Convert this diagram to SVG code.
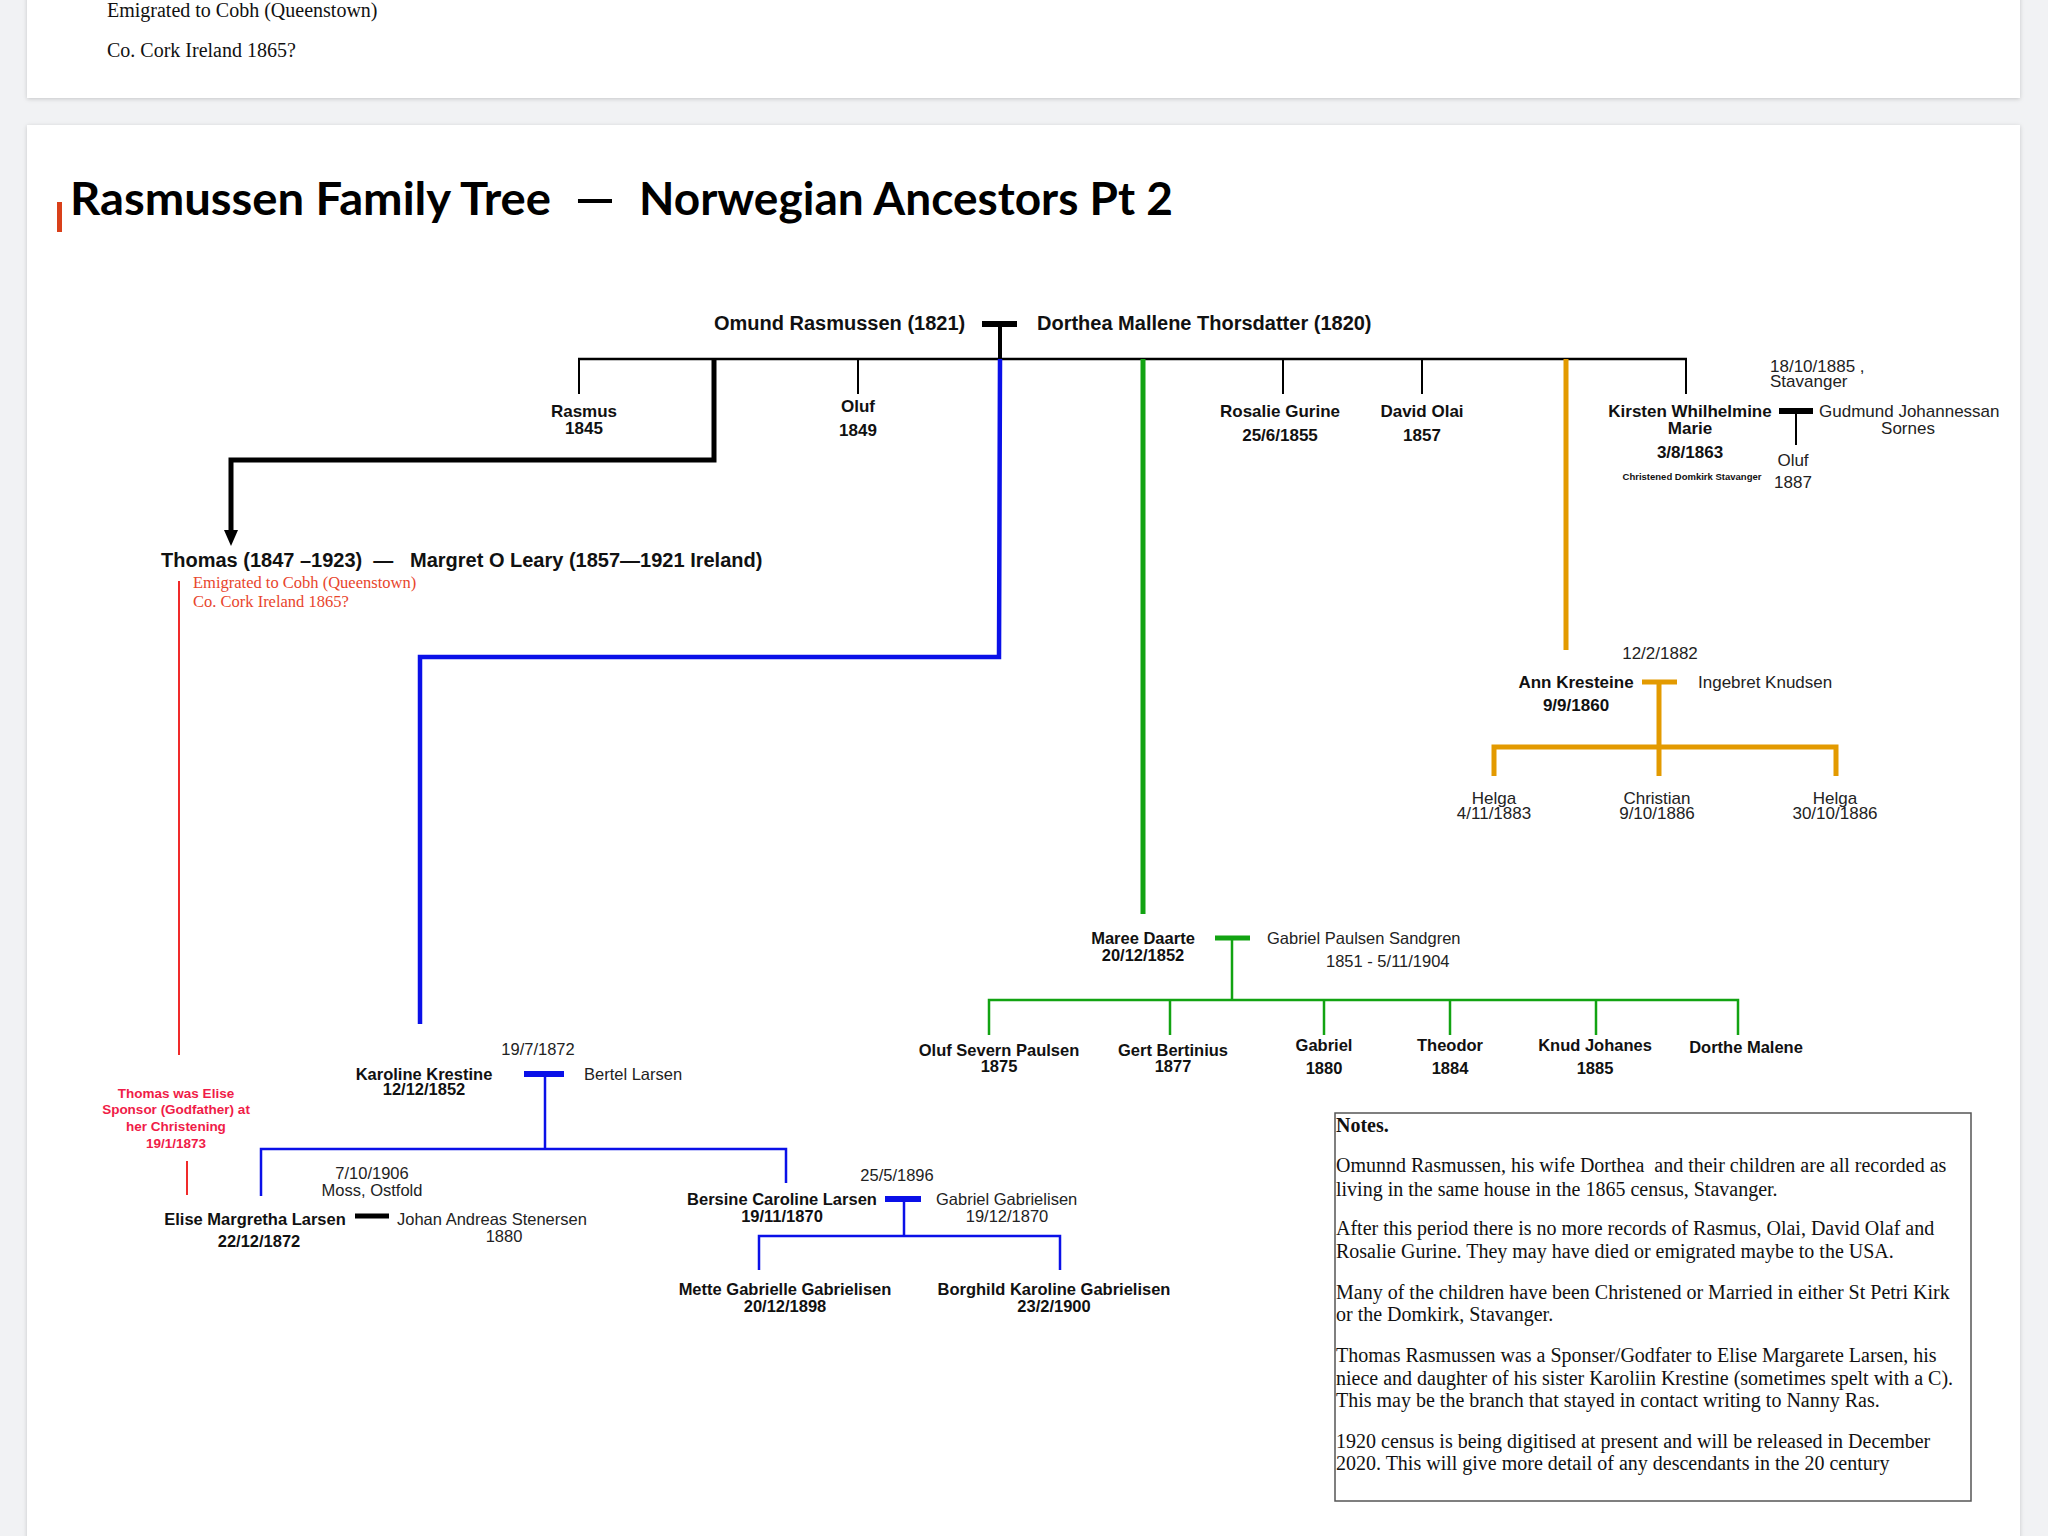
<svg xmlns="http://www.w3.org/2000/svg" width="2048" height="1536" viewBox="0 0 2048 1536">
<defs>
<filter id="sh" x="-5%" y="-5%" width="110%" height="110%">
<feDropShadow dx="0" dy="1" stdDeviation="2" flood-color="#000" flood-opacity="0.18"/>
</filter>
<style>
.b{font-family:"Liberation Sans",Arial,sans-serif;font-weight:bold;fill:#111}
.r{font-family:"Liberation Sans",Arial,sans-serif;fill:#222}
.m{text-anchor:middle}
.tm{font-family:"Liberation Serif","Times New Roman",serif;fill:#111}
.blk{stroke:#000;fill:none}
.blu{stroke:#0a10e8;fill:none}
.grn{stroke:#12a312;fill:none}
.org{stroke:#e39a00;fill:none}
.red{stroke:#f02a2a;fill:none}
</style>
</defs>
<rect x="0" y="0" width="2048" height="1536" fill="#f1f2f4"/>
<rect x="27" y="-20" width="1993" height="118" fill="#fff" filter="url(#sh)"/>
<rect x="27" y="125" width="1993" height="1430" fill="#fff" filter="url(#sh)"/>

<g id="top-card-text">
<text class="tm" x="107" y="17" font-size="20">Emigrated to Cobh (Queenstown)</text>
<text class="tm" x="107" y="57" font-size="20">Co. Cork Ireland 1865?</text>
</g>

<g id="title">
<rect x="57" y="202" width="5" height="30" fill="#d9401a"/>
<text x="70" y="215" font-family="Lato,'Open Sans',sans-serif" font-weight="bold" font-size="46" textLength="481" lengthAdjust="spacingAndGlyphs" fill="#000">Rasmussen Family Tree</text>
<text x="575" y="215" font-family="Lato,'Open Sans',sans-serif" font-weight="bold" font-size="46" textLength="40" lengthAdjust="spacingAndGlyphs" fill="#000">—</text>
<text x="639" y="215" font-family="Lato,'Open Sans',sans-serif" font-weight="bold" font-size="46" textLength="534" lengthAdjust="spacingAndGlyphs" fill="#000">Norwegian Ancestors Pt 2</text>
</g>

<g id="connectors">
<line class="blk" x1="982" y1="324" x2="1017" y2="324" stroke-width="6"/>
<line class="blk" x1="1000" y1="324" x2="1000" y2="359" stroke-width="4"/>
<line class="blk" x1="578" y1="359" x2="1687" y2="359" stroke-width="2.5"/>
<line class="blk" x1="579" y1="359" x2="579" y2="394" stroke-width="2"/>
<line class="blk" x1="858" y1="359" x2="858" y2="394" stroke-width="2"/>
<line class="blk" x1="1283" y1="359" x2="1283" y2="394" stroke-width="2"/>
<line class="blk" x1="1422" y1="359" x2="1422" y2="394" stroke-width="2"/>
<line class="blk" x1="1686" y1="359" x2="1686" y2="394" stroke-width="2"/>
<polyline class="blk" points="714,359 714,460 231,460 231,532" stroke-width="5"/>
<polygon points="224,530 238,530 231,546" fill="#000"/>
<line class="blk" x1="1779" y1="411" x2="1813" y2="411" stroke-width="6"/>
<line class="blk" x1="1796" y1="411" x2="1796" y2="445" stroke-width="2"/>
<polyline class="blu" points="1000,359 999,657 420,657 420,1024" stroke-width="4.5"/>
<line class="blu" x1="524" y1="1074" x2="564" y2="1074" stroke-width="6"/>
<line class="blu" x1="545" y1="1074" x2="545" y2="1149" stroke-width="2.5"/>
<polyline class="blu" points="261,1196 261,1149 786,1149 786,1183" stroke-width="2.5"/>
<line class="blu" x1="885" y1="1199" x2="921" y2="1199" stroke-width="6"/>
<line class="blu" x1="904" y1="1199" x2="904" y2="1236" stroke-width="2.5"/>
<polyline class="blu" points="759,1270 759,1236 1060,1236 1060,1270" stroke-width="2.5"/>
<line class="blk" x1="355" y1="1216" x2="389" y2="1216" stroke-width="5"/>
<line class="red" x1="179" y1="581" x2="179" y2="1055" stroke-width="2"/>
<line class="red" x1="187" y1="1161" x2="187" y2="1195" stroke-width="2"/>
<line class="grn" x1="1143" y1="359" x2="1143" y2="914" stroke-width="5"/>
<line class="grn" x1="1215" y1="938" x2="1250" y2="938" stroke-width="5"/>
<line class="grn" x1="1232" y1="938" x2="1232" y2="1000" stroke-width="2.5"/>
<polyline class="grn" points="989,1035 989,1000 1738,1000 1738,1035" stroke-width="2.5"/>
<line class="grn" x1="1170" y1="1000" x2="1170" y2="1035" stroke-width="2.5"/>
<line class="grn" x1="1324" y1="1000" x2="1324" y2="1035" stroke-width="2.5"/>
<line class="grn" x1="1450" y1="1000" x2="1450" y2="1035" stroke-width="2.5"/>
<line class="grn" x1="1596" y1="1000" x2="1596" y2="1035" stroke-width="2.5"/>
<line class="org" x1="1566" y1="359" x2="1566" y2="650" stroke-width="5"/>
<line class="org" x1="1642" y1="682" x2="1677" y2="682" stroke-width="5"/>
<line class="org" x1="1659" y1="682" x2="1659" y2="776" stroke-width="5"/>
<polyline class="org" points="1494,776 1494,747 1836,747 1836,776" stroke-width="5"/>
</g>

<g id="parents">
<text class="b" x="714" y="330" font-size="20">Omund Rasmussen (1821)</text>
<text class="b" x="1037" y="330" font-size="20">Dorthea Mallene Thorsdatter (1820)</text>
</g>
<g id="rasmus"><text class="b m" x="584" y="417" font-size="17">Rasmus</text><text class="b m" x="584" y="434" font-size="17">1845</text></g>
<g id="oluf"><text class="b m" x="858" y="412" font-size="17">Oluf</text><text class="b m" x="858" y="436" font-size="17">1849</text></g>
<g id="rosalie"><text class="b m" x="1280" y="417" font-size="17">Rosalie Gurine</text><text class="b m" x="1280" y="441" font-size="17">25/6/1855</text></g>
<g id="david"><text class="b m" x="1422" y="417" font-size="17">David Olai</text><text class="b m" x="1422" y="441" font-size="17">1857</text></g>
<g id="kirsten">
<text class="b m" x="1690" y="417" font-size="17">Kirsten Whilhelmine</text>
<text class="b m" x="1690" y="434" font-size="17">Marie</text>
<text class="b m" x="1690" y="458" font-size="17">3/8/1863</text>
<text class="b m" x="1692" y="480" font-size="9.5">Christened Domkirk Stavanger</text>
</g>
<g id="kirsten-marriage"><text class="r" x="1770" y="372" font-size="17">18/10/1885 ,</text><text class="r" x="1770" y="387" font-size="17">Stavanger</text></g>
<g id="gudmund"><text class="r" x="1819" y="417" font-size="17">Gudmund Johannessan</text><text class="r m" x="1908" y="434" font-size="17">Sornes</text></g>
<g id="oluf-1887"><text class="r m" x="1793" y="466" font-size="17">Oluf</text><text class="r m" x="1793" y="488" font-size="17">1887</text></g>

<g id="thomas">
<text class="b" x="161" y="567" font-size="20" xml:space="preserve">Thomas (1847 –1923)  —   Margret O Leary (1857—1921 Ireland)</text>
<text class="tm" x="193" y="588" font-size="16.5" style="fill:#e8452c">Emigrated to Cobh (Queenstown)</text>
<text class="tm" x="193" y="607" font-size="16.5" style="fill:#e8452c">Co. Cork Ireland 1865?</text>
</g>
<g id="sponsor-note">
<text class="b m" x="176" y="1098" font-size="13.5" style="fill:#f01c48">Thomas was Elise</text>
<text class="b m" x="176" y="1114" font-size="13.5" style="fill:#f01c48">Sponsor (Godfather) at</text>
<text class="b m" x="176" y="1131" font-size="13.5" style="fill:#f01c48">her Christening</text>
<text class="b m" x="176" y="1148" font-size="13.5" style="fill:#f01c48">19/1/1873</text>
</g>

<g id="karoline">
<text class="b m" x="424" y="1080" font-size="16.5">Karoline Krestine</text>
<text class="b m" x="424" y="1095" font-size="16.5">12/12/1852</text>
<text class="r m" x="538" y="1055" font-size="16.5">19/7/1872</text>
<text class="r" x="584" y="1080" font-size="16.5">Bertel Larsen</text>
</g>
<g id="elise">
<text class="b m" x="255" y="1225" font-size="16.5">Elise Margretha Larsen</text>
<text class="b m" x="259" y="1247" font-size="16.5">22/12/1872</text>
<text class="r m" x="372" y="1179" font-size="16.5">7/10/1906</text>
<text class="r m" x="372" y="1196" font-size="16.5">Moss, Ostfold</text>
<text class="r" x="397" y="1225" font-size="16.5">Johan Andreas Stenersen</text>
<text class="r m" x="504" y="1242" font-size="16.5">1880</text>
</g>
<g id="bersine">
<text class="b m" x="782" y="1205" font-size="16.5">Bersine Caroline Larsen</text>
<text class="b m" x="782" y="1222" font-size="16.5">19/11/1870</text>
<text class="r m" x="897" y="1181" font-size="16.5">25/5/1896</text>
<text class="r" x="936" y="1205" font-size="16.5">Gabriel Gabrielisen</text>
<text class="r m" x="1007" y="1222" font-size="16.5">19/12/1870</text>
</g>
<g id="mette"><text class="b m" x="785" y="1295" font-size="16.5">Mette Gabrielle Gabrielisen</text><text class="b m" x="785" y="1312" font-size="16.5">20/12/1898</text></g>
<g id="borghild"><text class="b m" x="1054" y="1295" font-size="16.5">Borghild Karoline Gabrielisen</text><text class="b m" x="1054" y="1312" font-size="16.5">23/2/1900</text></g>

<g id="maree">
<text class="b m" x="1143" y="944" font-size="16.5">Maree Daarte</text>
<text class="b m" x="1143" y="961" font-size="16.5">20/12/1852</text>
<text class="r" x="1267" y="944" font-size="16.5">Gabriel Paulsen Sandgren</text>
<text class="r" x="1326" y="967" font-size="16.5">1851 - 5/11/1904</text>
</g>
<g id="oluf-severn"><text class="b m" x="999" y="1056" font-size="16.5">Oluf Severn Paulsen</text><text class="b m" x="999" y="1072" font-size="16.5">1875</text></g>
<g id="gert"><text class="b m" x="1173" y="1056" font-size="16.5">Gert Bertinius</text><text class="b m" x="1173" y="1072" font-size="16.5">1877</text></g>
<g id="gabriel"><text class="b m" x="1324" y="1051" font-size="16.5">Gabriel</text><text class="b m" x="1324" y="1074" font-size="16.5">1880</text></g>
<g id="theodor"><text class="b m" x="1450" y="1051" font-size="16.5">Theodor</text><text class="b m" x="1450" y="1074" font-size="16.5">1884</text></g>
<g id="knud"><text class="b m" x="1595" y="1051" font-size="16.5">Knud Johanes</text><text class="b m" x="1595" y="1074" font-size="16.5">1885</text></g>
<g id="dorthe"><text class="b m" x="1746" y="1053" font-size="16.5">Dorthe Malene</text></g>

<g id="ann">
<text class="r m" x="1660" y="659" font-size="17">12/2/1882</text>
<text class="b m" x="1576" y="688" font-size="17">Ann Kresteine</text>
<text class="b m" x="1576" y="711" font-size="17">9/9/1860</text>
<text class="r" x="1698" y="688" font-size="17">Ingebret Knudsen</text>
</g>
<g id="helga1"><text class="r m" x="1494" y="804" font-size="17">Helga</text><text class="r m" x="1494" y="819" font-size="17">4/11/1883</text></g>
<g id="christian"><text class="r m" x="1657" y="804" font-size="17">Christian</text><text class="r m" x="1657" y="819" font-size="17">9/10/1886</text></g>
<g id="helga2"><text class="r m" x="1835" y="804" font-size="17">Helga</text><text class="r m" x="1835" y="819" font-size="17">30/10/1886</text></g>

<g id="notes">
<rect x="1335" y="1113" width="636" height="388" fill="none" stroke="#555" stroke-width="1.5"/>
<text class="tm" x="1336" y="1132" font-size="20" font-weight="bold">Notes.</text>
<text class="tm" x="1336" y="1172" font-size="20" xml:space="preserve">Omunnd Rasmussen, his wife Dorthea  and their children are all recorded as</text>
<text class="tm" x="1336" y="1196" font-size="20">living in the same house in the 1865 census, Stavanger.</text>
<text class="tm" x="1336" y="1235" font-size="20">After this period there is no more records of Rasmus, Olai, David Olaf and</text>
<text class="tm" x="1336" y="1258" font-size="20">Rosalie Gurine. They may have died or emigrated maybe to the USA.</text>
<text class="tm" x="1336" y="1299" font-size="20">Many of the children have been Christened or Married in either St Petri Kirk</text>
<text class="tm" x="1336" y="1321" font-size="20">or the Domkirk, Stavanger.</text>
<text class="tm" x="1336" y="1362" font-size="20">Thomas Rasmussen was a Sponser/Godfater to Elise Margarete Larsen, his</text>
<text class="tm" x="1336" y="1385" font-size="20">niece and daughter of his sister Karoliin Krestine (sometimes spelt with a C).</text>
<text class="tm" x="1336" y="1407" font-size="20">This may be the branch that stayed in contact writing to Nanny Ras.</text>
<text class="tm" x="1336" y="1448" font-size="20">1920 census is being digitised at present and will be released in December</text>
<text class="tm" x="1336" y="1470" font-size="20">2020. This will give more detail of any descendants in the 20 century</text>
</g>
</svg>
